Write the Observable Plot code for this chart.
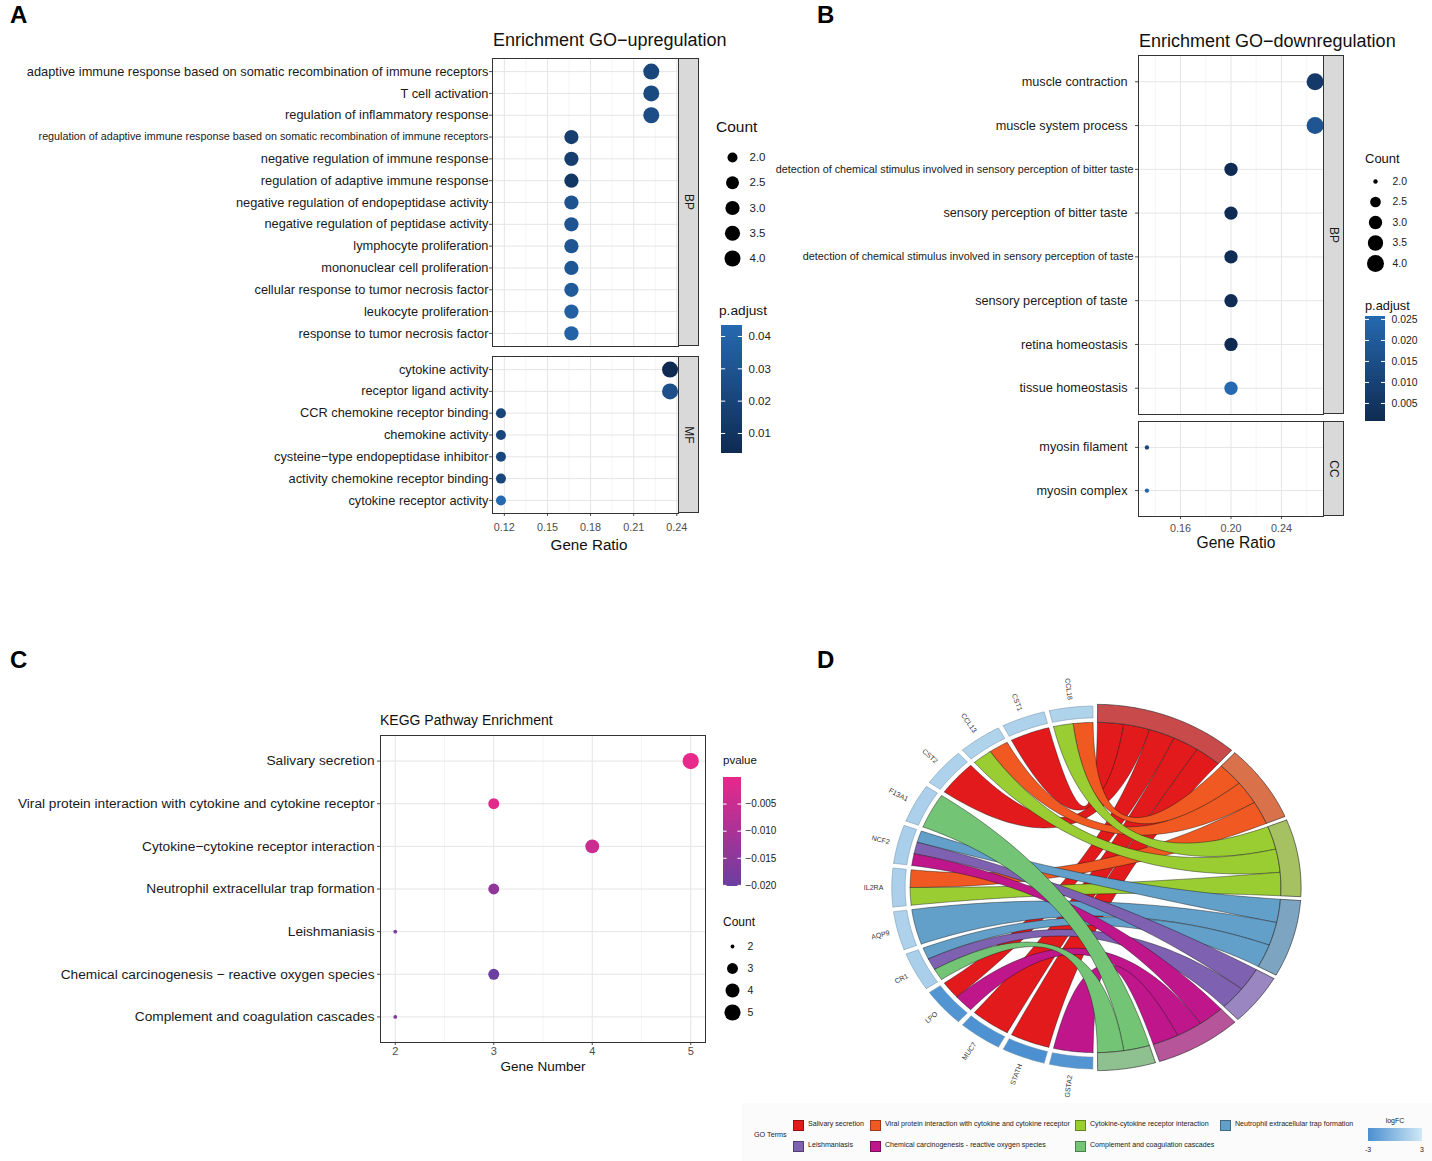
<!DOCTYPE html>
<html><head><meta charset="utf-8">
<script src="https://cdn.jsdelivr.net/npm/d3@7"></script>
<script src="https://cdn.jsdelivr.net/npm/@observablehq/plot@0.6"></script>
<style>body{margin:0;background:#fff}</style>
</head><body>
<div id="fig" style="position:relative;width:1432px;height:1161px;overflow:hidden;background:#fff"></div>
<script>
// ================= DATA =================
// Panel A – GO upregulation
const upBPTerms = [
  "adaptive immune response based on somatic recombination of immune receptors",
  "T cell activation",
  "regulation of inflammatory response",
  "regulation of adaptive immune response based on somatic recombination of immune receptors",
  "negative regulation of immune response",
  "regulation of adaptive immune response",
  "negative regulation of endopeptidase activity",
  "negative regulation of peptidase activity",
  "lymphocyte proliferation",
  "mononuclear cell proliferation",
  "cellular response to tumor necrosis factor",
  "leukocyte proliferation",
  "response to tumor necrosis factor"];
const upBPRatio = ["4/18","4/18","4/18","3/18","3/18","3/18","3/18","3/18","3/18","3/18","3/18","3/18","3/18"];
const upBPPadj = [0.0210,0.0236,0.0255,0.0159,0.0166,0.0115,0.0293,0.0300,0.0306,0.0319,0.0338,0.0377,0.0389];
const upMFTerms = ["cytokine activity","receptor ligand activity","CCR chemokine receptor binding","chemokine activity",
  "cysteine\u2212type endopeptidase inhibitor","activity chemokine receptor binding","cytokine receptor activity"];
const upMFRatio = ["4/17","4/17","2/17","2/17","2/17","2/17","2/17"];
const upMFPadj = [0.0038,0.0274,0.0204,0.0210,0.0223,0.0217,0.0434];

// Panel B – GO downregulation
const downBPTerms = ["muscle contraction","muscle system process",
  "detection of chemical stimulus involved in sensory perception of bitter taste",
  "sensory perception of bitter taste",
  "detection of chemical stimulus involved in sensory perception of taste",
  "sensory perception of taste","retina homeostasis","tissue homeostasis"];
const downBPRatio = ["4/15","4/15","3/15","3/15","3/15","3/15","3/15","3/15"];
const downBPPadj = [0.0067,0.0176,0.0009,0.0011,0.0011,0.0013,0.0007,0.0257];
const downCCTerms = ["myosin filament","myosin complex"];
const downCCRatio = ["2/15","2/15"];
const downCCPadj = [0.0108,0.0250];

// Panel C – KEGG
const keggTerms = ["Salivary secretion","Viral protein interaction with cytokine and cytokine receptor",
  "Cytokine\u2212cytokine receptor interaction","Neutrophil extracellular trap formation","Leishmaniasis",
  "Chemical carcinogenesis \u2212 reactive oxygen species","Complement and coagulation cascades"];
const keggCount = [5,3,4,3,2,3,2];
const keggPvalue = [-0.0001,-0.0008,-0.0051,-0.0144,-0.0170,-0.0202,-0.0172];

// Panel D – chord
const chordGenes = ["CCL18","CST1","CCL13","CST2","F13A1","NCF2","IL2RA","AQP9","CR1","LPO","MUC7","STATH","GSTA2"];
const chordLogFC = [1.6,1.5,1.6,1.5,1.4,1.3,1.4,1.5,1.3,-2.6,-2.8,-2.9,-2.6];
const chordTerms = ["Salivary secretion","Viral protein interaction with cytokine and cytokine receptor",
  "Cytokine-cytokine receptor interaction","Neutrophil extracellular trap formation","Leishmaniasis",
  "Chemical carcinogenesis - reactive oxygen species","Complement and coagulation cascades"];
const chordLinks = [["CCL18",1],["CCL18",2],["CST1",0],["CCL13",1],["CCL13",2],["CST2",0],["F13A1",6],
  ["NCF2",3],["NCF2",4],["NCF2",5],["IL2RA",1],["IL2RA",2],["AQP9",3],["CR1",3],["CR1",4],["CR1",6],
  ["LPO",0],["LPO",5],["MUC7",0],["STATH",0],["GSTA2",5]];
const termPalette = ["#E31A1C","#F05A22","#9ACD32","#62A0CA","#7E61B0","#C0168C","#74C476"];
const termBlockPalette = ["#C94A4B","#D9714A","#A5C162","#7DA5C1","#9A86C1","#B7559A","#8FC090"];

// ================= HELPERS =================
const FONT = "'Liberation Sans', Arial, Helvetica, sans-serif";
const fig = document.getElementById("fig");
const ratio = s => { const [a, b] = s.split("/").map(Number); return a / b; };
const cnt = s => +s.split("/")[0];
const expand = (ext, f = 0.05) => [ext[0] - f * (ext[1] - ext[0]), ext[1] + f * (ext[1] - ext[0])];

function place(node, left, top) {
  node.style.position = "absolute";
  node.style.left = left + "px";
  node.style.top = top + "px";
  fig.appendChild(node);
  return node;
}
function label(s, x, y, o = {}) {
  const d = document.createElement("div");
  d.textContent = s;
  const size = o.size || 12;
  d.style.cssText = `position:absolute;left:${x}px;top:${y}px;white-space:nowrap;line-height:1;font-size:${size}px;` +
    `font-weight:${o.weight || "normal"};color:${o.color || "#000"};font-family:${FONT};`;
  const tx = (o.anchor || "start") === "start" ? "0" : o.anchor === "middle" ? "-50%" : "-100%";
  d.style.transform = `translate(${tx},-50%)` + (o.rotate ? ` rotate(${o.rotate}deg)` : "");
  fig.appendChild(d);
  return d;
}
function strip(s, x0, y0, x1, y1) {
  const d = document.createElement("div");
  d.style.cssText = `position:absolute;left:${x0}px;top:${y0}px;width:${x1 - x0}px;height:${y1 - y0}px;` +
    `background:#d9d9d9;border:1px solid #333;box-sizing:border-box;`;
  fig.appendChild(d);
  label(s, (x0 + x1) / 2, (y0 + y1) / 2, {size: 12, anchor: "middle", rotate: 90, color: "#1a1a1a"});
}

function dotPanel(o) {
  const data = o.terms.map((t, i) => ({term: t, x: o.xs[i], count: o.counts[i], c: o.colorVals[i]}));
  const small = o.small || [];
  const svg = Plot.plot({
    width: o.width, height: o.height,
    marginLeft: o.mL, marginRight: o.mR, marginTop: o.mT, marginBottom: o.mB,
    style: {fontFamily: FONT, fontSize: o.tickFont + "px", color: "#4d4d4d", background: "transparent", overflow: "visible"},
    x: {domain: o.xDomain, ticks: o.majors, tickFormat: o.fmt, tickSize: 3, tickPadding: o.tickPad ?? 2, label: null,
        axis: o.showX ? "bottom" : null},
    y: {type: "point", domain: o.terms, padding: 0.6, round: false, tickSize: 3, tickPadding: 1, tickFormat: () => "",
        label: null, axis: "left"},
    r: o.r,
    color: o.color,
    marks: [
      Plot.ruleX(o.minors, {stroke: "#f1f1f1", strokeWidth: 0.7}),
      Plot.ruleX(o.majors, {stroke: "#e5e5e5", strokeWidth: 1}),
      Plot.ruleY(o.terms, {stroke: "#e5e5e5", strokeWidth: 1}),
      Plot.frame({stroke: "#333", strokeWidth: 1}),
      Plot.dot(data, {x: "x", y: "term", r: d => d.count - o.rOffset, fill: "c"}),
      Plot.text(data.filter(d => !small.includes(d.term)), {y: "term", text: "term", frameAnchor: "left",
        textAnchor: "end", dx: o.labelDx, fill: "#1a1a1a", fontSize: o.labelSize}),
      Plot.text(data.filter(d => small.includes(d.term)), {y: "term", text: "term", frameAnchor: "left",
        textAnchor: "end", dx: o.smallDx ?? o.labelDx, fill: "#1a1a1a", fontSize: o.smallSize})
    ]
  });
  place(svg, o.left, o.top);
}

function sizeLegend(o) {
  const width = 70, pad = 20;
  const height = o.ys[1] - o.ys[0] + 2 * pad;
  const svg = Plot.plot({
    width, height, marginLeft: 12, marginRight: width - 12, marginTop: 0, marginBottom: 0,
    style: {fontFamily: FONT, background: "transparent", overflow: "visible"},
    y: {domain: [o.vals[0], o.vals[o.vals.length - 1]], range: [pad, height - pad], axis: null},
    r: o.r,
    marks: [
      Plot.dot(o.vals, {y: d => d, r: d => d - o.rOffset, fill: "#000", frameAnchor: "left"}),
      Plot.text(o.vals, {y: d => d, text: d => d3.format(o.fmt)(d), frameAnchor: "left", dx: o.xLab - o.xDot,
        textAnchor: "start", fontSize: o.fontSize, fill: "#222"})
    ]
  });
  place(svg, o.xDot - 12, o.ys[0] - pad);
}

function colorbar(o) {
  const pad = 10, width = 80;
  const height = o.yBot - o.yTop + 2 * pad;
  const n = 40, st = (o.hi - o.lo) / n;
  const steps = d3.range(n).map(i => [o.lo + st * i, Math.min(o.hi, o.lo + st * (i + 1.8)), o.lo + st * (i + 0.5)]);
  const svg = Plot.plot({
    width, height, marginLeft: 0, marginRight: 0, marginTop: 0, marginBottom: 0,
    style: {fontFamily: FONT, background: "transparent", overflow: "visible"},
    x: {domain: [0, 1], range: [0, o.x1 - o.x0], axis: null},
    y: {domain: [o.lo, o.hi], range: [height - pad, pad], axis: null},
    color: o.color,
    marks: [
      Plot.rect(steps, {x1: 0, x2: 1, y1: d => d[0], y2: d => d[1], fill: d => d[2]}),
      Plot.ruleY(o.ticks, {x1: 0, x2: 0.2, stroke: "#fff", strokeWidth: 1}),
      Plot.ruleY(o.ticks, {x1: 0.8, x2: 1, stroke: "#fff", strokeWidth: 1}),
      Plot.text(o.ticks, {x: 1, y: d => d, text: d => d3.format(o.fmt)(d), dx: o.labelX - o.x1,
        textAnchor: "start", fontSize: o.fontSize, fill: "#222"})
    ]
  });
  place(svg, o.x0, o.yTop - pad);
}

// ================= PANEL A =================
const xA = expand(d3.extent([...upBPRatio, ...upMFRatio].map(ratio)));
const colorA = {type: "linear", domain: d3.extent([...upBPPadj, ...upMFPadj]), range: ["#0f2b52", "#2669b0"]};
const rA = {type: "sqrt", domain: [0, 2], range: [5, 8]};
const majA = [0.12, 0.15, 0.18, 0.21, 0.24], minA = [0.135, 0.165, 0.195, 0.225];
const commonA = {xDomain: xA, majors: majA, minors: minA, fmt: d3.format(".2f"), r: rA, rOffset: 2, color: colorA,
  labelSize: 12.8, smallSize: 10.75, labelDx: -4, tickFont: 10.8, tickPad: 7, left: 0, width: 700, mL: 492, mR: 22};
dotPanel({...commonA, terms: upBPTerms, xs: upBPRatio.map(ratio), counts: upBPRatio.map(cnt), colorVals: upBPPadj,
  top: 50, height: 300, mT: 8, mB: 4, showX: false, small: [upBPTerms[3]]});
dotPanel({...commonA, terms: upMFTerms, xs: upMFRatio.map(ratio), counts: upMFRatio.map(cnt), colorVals: upMFPadj,
  top: 350, height: 200, mT: 6, mB: 37, showX: true});
strip("BP", 678, 58, 699, 346);
strip("MF", 678, 356, 699, 513);
label("Enrichment GO\u2212upregulation", 493, 40, {size: 18, color: "#111"});
label("Gene Ratio", 589, 545, {size: 15.2, anchor: "middle", color: "#111"});
label("Count", 716, 127, {size: 15.5, color: "#111"});
sizeLegend({vals: [2, 2.5, 3, 3.5, 4], fmt: ".1f", xDot: 732, xLab: 749, ys: [157, 258], r: rA, rOffset: 2, fontSize: 11.5});
label("p.adjust", 719, 311, {size: 13.7, color: "#111"});
colorbar({lo: colorA.domain[0], hi: colorA.domain[1], x0: 721, x1: 742, yTop: 325, yBot: 453, color: colorA,
  ticks: [0.01, 0.02, 0.03, 0.04], fmt: ".2f", labelX: 748, fontSize: 11.5});

// ================= PANEL B =================
const xB = expand(d3.extent([...downBPRatio, ...downCCRatio].map(ratio)));
const colorB = {type: "linear", domain: d3.extent([...downBPPadj, ...downCCPadj]), range: ["#0f2b52", "#2669b0"]};
const rB = {type: "sqrt", domain: [0, 2], range: [2.2, 8.5]};
const commonB = {xDomain: xB, majors: [0.16, 0.20, 0.24], minors: [0.14, 0.18, 0.22, 0.26], fmt: d3.format(".2f"),
  r: rB, rOffset: 2, color: colorB, labelSize: 12.7, smallSize: 10.8, labelDx: -11, smallDx: -5, tickFont: 10.8,
  tickPad: 5, left: 800, width: 545, mL: 338, mR: 22};
dotPanel({...commonB, terms: downBPTerms, xs: downBPRatio.map(ratio), counts: downBPRatio.map(cnt),
  colorVals: downBPPadj, top: 50, height: 370, mT: 5, mB: 6, showX: false, small: [downBPTerms[2], downBPTerms[4]]});
dotPanel({...commonB, terms: downCCTerms, xs: downCCRatio.map(ratio), counts: downCCRatio.map(cnt),
  colorVals: downCCPadj, top: 416, height: 140, mT: 5, mB: 40, showX: true});
strip("BP", 1323, 55, 1344, 414);
strip("CC", 1323, 421, 1344, 516);
label("Enrichment GO\u2212downregulation", 1139, 41, {size: 18, color: "#111"});
label("Gene Ratio", 1236, 543, {size: 15.6, anchor: "middle", color: "#111"});
label("Count", 1365, 158, {size: 13, color: "#111"});
sizeLegend({vals: [2, 2.5, 3, 3.5, 4], fmt: ".1f", xDot: 1375, xLab: 1392, ys: [181, 263], r: rB, rOffset: 2, fontSize: 10.4});
label("p.adjust", 1365, 306, {size: 12.8, color: "#111"});
colorbar({lo: colorB.domain[0], hi: colorB.domain[1], x0: 1365, x1: 1385, yTop: 316, yBot: 421, color: colorB,
  ticks: [0.005, 0.010, 0.015, 0.020, 0.025], fmt: ".3f", labelX: 1391, fontSize: 10.4});

// ================= PANEL C =================
const colorC = {type: "linear", domain: d3.extent(keggPvalue), range: ["#6B3FA0", "#E8288B"]};
const rC = {type: "sqrt", domain: [0, 3], range: [1.9, 8.1]};
dotPanel({terms: keggTerms, xs: keggCount, counts: keggCount, colorVals: keggPvalue,
  xDomain: expand(d3.extent(keggCount)), majors: [2, 3, 4, 5], minors: [2.5, 3.5, 4.5], fmt: d3.format("d"),
  r: rC, rOffset: 2, color: colorC, labelSize: 13.7, labelDx: -6, tickFont: 11, tickPad: 2,
  left: 0, top: 700, width: 720, height: 370, mL: 380, mR: 15, mT: 35, mB: 28, showX: true});
label("KEGG Pathway Enrichment", 380, 720, {size: 14, color: "#111"});
label("Gene Number", 543, 1067, {size: 13.5, anchor: "middle", color: "#111"});
label("pvalue", 723, 761, {size: 11.5, color: "#111"});
colorbar({lo: colorC.domain[0], hi: colorC.domain[1], x0: 723, x1: 741, yTop: 777, yBot: 886, color: colorC,
  ticks: [-0.020, -0.015, -0.010, -0.005], fmt: ".3f", labelX: 745, fontSize: 10});
label("Count", 723, 922, {size: 12, color: "#111"});
sizeLegend({vals: [2, 3, 4, 5], fmt: "d", xDot: 732, xLab: 747, ys: [946, 1012], r: rC, rOffset: 2, fontSize: 10.5});

// ================= PANEL D (chord) =================
const deg = Math.PI / 180;
const P = (a, r) => [r * Math.sin(a * deg), -r * Math.cos(a * deg)];
const mid = a => (a[0] + a[1]) / 2;
function arcPts(a0, a1, r) {
  const n = Math.max(2, Math.ceil(Math.abs(a1 - a0) / 0.8));
  return d3.range(n + 1).map(i => P(a0 + (a1 - a0) * i / n, r));
}
function quadPts(p0, p2, n = 48) {
  return d3.range(1, n).map(i => { const t = i / n, u = (1 - t) * (1 - t), v = t * t;
    return [u * p0[0] + v * p2[0], u * p0[1] + v * p2[1]]; });
}
const nG = chordGenes.length, gStep = 180 / nG;
const geneArc = new Map();
chordGenes.forEach((g, i) => { const k = nG - 1 - i; const a0 = 180 + k * gStep; geneArc.set(g, [a0 + 0.75, a0 + gStep - 0.75]); });
const termCount = chordTerms.map((t, j) => chordLinks.filter(l => l[1] === j).length);
const tGap = 1.2, unit = (180 - chordTerms.length * tGap) / chordLinks.length;
let acc = tGap / 2;
const termArc = termCount.map(c => { const a = [acc, acc + c * unit]; acc += c * unit + tGap; return a; });
const linkPos = chordLinks.map(() => ({}));
chordTerms.forEach((t, j) => {
  const idx = chordLinks.map((l, i) => i).filter(i => chordLinks[i][1] === j);
  idx.sort((a, b) => mid(geneArc.get(chordLinks[b][0])) - mid(geneArc.get(chordLinks[a][0])));
  idx.forEach((i, k) => { linkPos[i].t = [termArc[j][0] + k * unit, termArc[j][0] + (k + 1) * unit]; });
});
chordGenes.forEach(g => {
  const idx = chordLinks.map((l, i) => i).filter(i => chordLinks[i][0] === g);
  idx.sort((a, b) => mid(termArc[chordLinks[b][1]]) - mid(termArc[chordLinks[a][1]]));
  const [a0, a1] = geneArc.get(g), w = (a1 - a0) / idx.length;
  idx.forEach((i, k) => { linkPos[i].g = [a0 + k * w, a0 + (k + 1) * w]; });
});
const lfcScale = Plot.scale({color: {type: "linear", domain: [-3, 3], range: ["#4A8FD0", "#CFE8F5"]}});
const shapes = [];
function addShape(id, pts, fill) { pts.forEach(p => shapes.push({id, x: p[0], y: p[1], fill})); }
const R = 0.9;
const linkOrder = chordLinks.map((l, i) => i).sort((a, b) => chordLinks[a][1] - chordLinks[b][1] || a - b);
linkOrder.forEach(i => {
  const {g, t} = linkPos[i];
  const pts = [...arcPts(g[0], g[1], R), ...quadPts(P(g[1], R), P(t[0], R)), ...arcPts(t[0], t[1], R),
    ...quadPts(P(t[1], R), P(g[0], R))];
  pts.push(pts[0]);
  addShape("rib" + i, pts, termPalette[chordLinks[i][1]]);
});
const blocks = [];
function ring(a0, a1, r0, r1) { const p = [...arcPts(a0, a1, r1), ...arcPts(a1, a0, r0)]; p.push(p[0]); return p; }
termArc.forEach((a, j) => ring(a[0], a[1], 0.9, 0.998).forEach(p => blocks.push({id: "t" + j, x: p[0], y: p[1], fill: termBlockPalette[j]})));
const genes = [];
chordGenes.forEach((g, i) => { const a = geneArc.get(g);
  ring(a[0], a[1], 0.924, 0.989).forEach(p => genes.push({id: "g" + i, x: p[0], y: p[1], fill: lfcScale.apply(chordLogFC[i])})); });
const geneLabels = chordGenes.map(g => { const a = mid(geneArc.get(g)); const p = P(a, 1.03);
  return {gene: g, x: p[0], y: p[1], rot: a - 270}; });
const cx = 1095, cy = 886.5, rxPx = 206, ryPx = 183.5, dW = 560, dH = 460;
const chordSvg = Plot.plot({
  width: dW, height: dH, marginLeft: 0, marginRight: 0, marginTop: 0, marginBottom: 0,
  style: {fontFamily: FONT, background: "transparent", overflow: "visible", color: "#333"},
  x: {domain: [-dW / 2 / rxPx, dW / 2 / rxPx], range: [0, dW], axis: null},
  y: {domain: [-dH / 2 / ryPx, dH / 2 / ryPx], range: [0, dH], axis: null},
  color: {type: "identity"},
  marks: [
    Plot.line(shapes, {x: "x", y: "y", z: "id", fill: "fill", stroke: "#111", strokeWidth: 0.5, strokeOpacity: 0.85, curve: "linear"}),
    Plot.line(blocks, {x: "x", y: "y", z: "id", fill: "fill", stroke: "#222", strokeWidth: 0.6, curve: "linear"}),
    Plot.line(genes, {x: "x", y: "y", z: "id", fill: "fill", stroke: "#6c8ea3", strokeWidth: 0.5, curve: "linear"}),
    Plot.text(geneLabels, {x: "x", y: "y", text: "gene", rotate: "rot", textAnchor: "end", fontSize: 7, fill: "#333"})
  ]
});
place(chordSvg, cx - dW / 2, cy - dH / 2);

// D legend
const legBox = document.createElement("div");
legBox.style.cssText = "position:absolute;left:742px;top:1103px;width:690px;height:58px;background:#fbfbfb;";
fig.appendChild(legBox);
label("GO Terms", 754, 1135, {size: 7.2, color: "#222"});
const colX = [793, 870, 1075, 1220], rowY = [1125, 1146];
chordTerms.forEach((t, j) => {
  const c = j < 4 ? j : j - 4, r = j < 4 ? 0 : 1;
  const sq = document.createElement("div");
  sq.style.cssText = `position:absolute;left:${colX[c]}px;top:${rowY[r] - 5.5}px;width:11px;height:11px;` +
    `background:${termPalette[j]};border:0.8px solid rgba(0,0,0,0.35);box-sizing:border-box;`;
  fig.appendChild(sq);
  label(t, colX[c] + 15, rowY[r], {size: 7.1, color: "#222"});
});
label("logFC", 1395, 1120, {size: 7, anchor: "middle", color: "#222"});
const bar = document.createElement("div");
bar.style.cssText = `position:absolute;left:1368px;top:1128px;width:54px;height:13px;` +
  `background:linear-gradient(to right, ${lfcScale.apply(-3)}, ${lfcScale.apply(3)});`;
fig.appendChild(bar);
label("-3", 1368, 1149, {size: 7, anchor: "middle", color: "#222"});
label("3", 1422, 1149, {size: 7, anchor: "middle", color: "#222"});

// panel letters
label("A", 10, 15, {size: 24, weight: "bold"});
label("B", 817, 15, {size: 24, weight: "bold"});
label("C", 10, 660, {size: 24, weight: "bold"});
label("D", 817, 660, {size: 24, weight: "bold"});
</script>
</body></html>
